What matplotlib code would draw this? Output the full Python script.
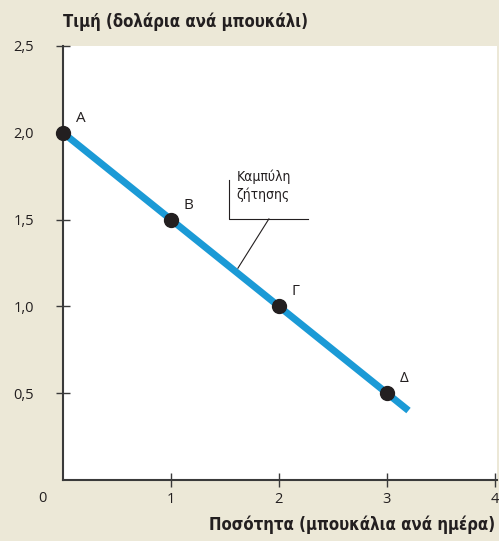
import matplotlib
matplotlib.use("Agg")
import matplotlib.pyplot as plt

# demand schedule
quantity = [0, 1, 2, 3]
price = [2.0, 1.5, 1.0, 0.5]
point_labels = ["A", "B", "Γ", "Δ"]
curve_q = [0, 3.2]
curve_p = [2.0, 0.4]
x_ticks = [1, 2, 3, 4]
y_ticks = [0.5, 1.0, 1.5, 2.0, 2.5]
y_tick_labels = ["0,5", "1,0", "1,5", "2,0", "2,5"]

BG = "#ece8d7"
BLUE = "#1b9ad6"
DARK = "#231f20"
NARROW = ["DejaVu Sans"]
REGULAR = ["Open Sans", "DejaVu Sans"]

fig = plt.figure(figsize=(4.99, 5.41), dpi=100, facecolor=BG)
ax = fig.add_axes([0.1263, 0.1128, 0.8697, 0.8022])
ax.set_facecolor("white")

ax.plot(curve_q, curve_p, color=BLUE, linewidth=5, solid_capstyle="butt", zorder=2)
ax.plot(quantity, price, "o", color=DARK, markersize=10, zorder=3, clip_on=False)
for q, p, lab in zip(quantity, price, point_labels):
    ax.annotate(lab, (q, p), xytext=(9, 5), textcoords="offset points",
                fontsize=11, family=REGULAR, color=DARK, ha="left", va="bottom")

# label bracket for the curve
ax.plot([1.537, 1.537, 2.27], [1.729, 1.504, 1.504], color=DARK, lw=0.8)
ax.plot([1.907, 1.62], [1.504, 1.22], color=DARK, lw=0.8)
ax.text(1.61, 1.695, "Καμπύλη\nζήτησης", family=NARROW, fontstretch="condensed",
        fontsize=10, color=DARK, ha="left", va="center", linespacing=1.35)

ax.set_xlim(0, 4.02)
ax.set_ylim(0, 2.5)
ax.set_xticks(x_ticks)
ax.set_xticklabels([str(t) for t in x_ticks])
ax.set_yticks(y_ticks)
ax.set_yticklabels(y_tick_labels)
ax.tick_params(direction="inout", length=10, width=1, color="#3a3a3a",
               labelsize=10.5, labelcolor=DARK)
ax.tick_params(axis="x", pad=4)
ax.tick_params(axis="y", pad=16)
for t in ax.get_xticklabels() + ax.get_yticklabels():
    t.set_family(REGULAR)

for s in ["top", "right"]:
    ax.spines[s].set_visible(False)
for s in ["left", "bottom"]:
    ax.spines[s].set_color("#3a3a3a")
    ax.spines[s].set_linewidth(1.5)

ax.annotate("0", (0, 0), xytext=(-15, -13), textcoords="offset points",
            fontsize=10.5, family=REGULAR, color=DARK, ha="center", va="center",
            annotation_clip=False)

fig.text(63 / 499, 1 - 22 / 541, "Τιμή (δολάρια ανά μπουκάλι)", family=NARROW,
         fontstretch="condensed", fontweight="bold", fontsize=12, color=DARK,
         ha="left", va="center")
fig.text(495 / 499, 1 - 525 / 541, "Ποσότητα (μπουκάλια ανά ημέρα)", family=NARROW,
         fontstretch="condensed", fontweight="bold", fontsize=12, color=DARK,
         ha="right", va="center")

fig.savefig("out.png", dpi=100, facecolor=BG)
